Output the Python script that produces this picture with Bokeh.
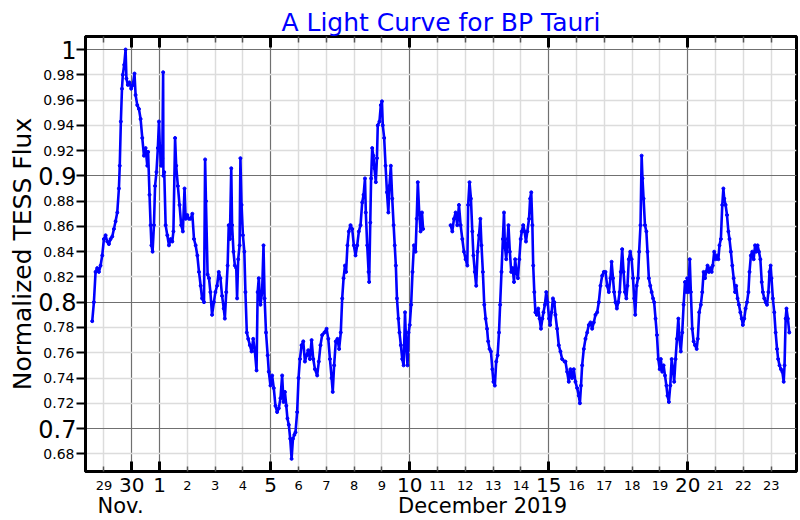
from bokeh.plotting import figure
from bokeh.models import Range1d, FixedTicker, LinearAxis, ColumnDataSource
from bokeh.embed import file_html
from bokeh.resources import INLINE

FONT = "DejaVu Sans"
BLUE = "#0000ff"

# Time in days since 2019-12-01 00:00 (TESS sector 19, two orbits)
orbit1_days = [-2.42, -2.36, -2.30, -2.24, -2.18, -2.12, -2.06, -2.00, -1.94, -1.88, -1.82, -1.76, -1.70,
               -1.64, -1.58, -1.52, -1.46, -1.43, -1.39, -1.35, -1.32, -1.27, -1.22, -1.19, -1.14, -1.08,
               -1.02, -0.96, -0.90, -0.86, -0.80, -0.74, -0.68, -0.62, -0.56, -0.50, -0.44, -0.41, -0.36,
               -0.32, -0.29, -0.25, -0.20, -0.16, -0.11, -0.06, -0.02, 0.01, 0.06, 0.10, 0.13, 0.14, 0.17,
               0.22, 0.28, 0.34, 0.40, 0.46, 0.50, 0.56, 0.60, 0.66, 0.72, 0.78, 0.84, 0.90, 0.94, 1.00,
               1.06, 1.12, 1.18, 1.24, 1.30, 1.36, 1.42, 1.48, 1.53, 1.60, 1.64, 1.67, 1.73, 1.78, 1.83,
               1.89, 1.955, 2.01, 2.07, 2.13, 2.19, 2.25, 2.31, 2.35, 2.40, 2.45, 2.49, 2.53, 2.58, 2.61,
               2.66, 2.71, 2.76, 2.79, 2.83, 2.88, 2.91, 2.95, 3.00, 3.05, 3.09, 3.14, 3.19, 3.25, 3.31,
               3.37, 3.43, 3.49, 3.53, 3.57, 3.63, 3.69, 3.74, 3.78, 3.83, 3.89, 3.93, 3.99, 4.05, 4.11,
               4.17, 4.23, 4.29, 4.35, 4.41, 4.46, 4.51, 4.56, 4.60, 4.65, 4.70, 4.75, 4.80, 4.85, 4.89,
               4.95, 5.00, 5.05, 5.11, 5.17, 5.23, 5.29, 5.35, 5.41, 5.47, 5.53, 5.59, 5.67, 5.73, 5.79,
               5.85, 5.93, 6.01, 6.07, 6.13, 6.19, 6.23, 6.28, 6.34, 6.40, 6.46, 6.52, 6.57, 6.62, 6.67,
               6.71, 6.76, 6.81, 6.87, 6.93, 6.99, 7.05, 7.11, 7.17, 7.23, 7.29, 7.34, 7.39, 7.42, 7.47,
               7.52, 7.54, 7.58, 7.61, 7.65, 7.69, 7.73, 7.78, 7.82, 7.85, 7.91, 7.96, 8.00, 8.03, 8.08,
               8.13, 8.18, 8.23, 8.27, 8.32, 8.37, 8.42, 8.46, 8.50, 8.54, 8.59, 8.63, 8.68, 8.73, 8.78,
               8.83, 8.87, 8.92, 8.96, 9.00, 9.05, 9.10, 9.15, 9.21, 9.25, 9.29, 9.34, 9.39, 9.44, 9.48]
orbit1_flux = [0.785, 0.800, 0.824, 0.827, 0.824, 0.829, 0.837, 0.850, 0.853, 0.848, 0.846, 0.850, 0.852,
               0.858, 0.864, 0.871, 0.890, 0.908, 0.943, 0.969, 0.980, 0.988, 1.000, 0.977, 0.972, 0.974,
               0.969, 0.972, 0.981, 0.964, 0.956, 0.953, 0.945, 0.930, 0.916, 0.922, 0.908, 0.919, 0.885,
               0.861, 0.845, 0.840, 0.861, 0.892, 0.903, 0.922, 0.943, 0.924, 0.908, 0.914, 0.982, 0.900, 0.903,
               0.861, 0.853, 0.845, 0.850, 0.848, 0.856, 0.930, 0.908, 0.892, 0.877, 0.861, 0.856, 0.890, 0.866, 0.869,
               0.866, 0.866, 0.870, 0.850, 0.845, 0.837, 0.824, 0.813, 0.803, 0.800, 0.913, 0.880, 0.822, 0.819, 0.808,
               0.790, 0.800, 0.808, 0.813, 0.824, 0.819, 0.805, 0.795, 0.787, 0.808, 0.829, 0.861, 0.850, 0.906, 0.861,
               0.840, 0.829, 0.827, 0.803, 0.834, 0.845, 0.914, 0.877, 0.853, 0.840, 0.808, 0.776, 0.771, 0.766, 0.761,
               0.771, 0.761, 0.746, 0.808, 0.819, 0.798, 0.808, 0.845, 0.803, 0.776, 0.758, 0.745, 0.734, 0.742, 0.732,
               0.718, 0.713, 0.716, 0.724, 0.742, 0.721, 0.729, 0.718, 0.708, 0.703, 0.692, 0.676, 0.692, 0.695, 0.697,
               0.713, 0.740, 0.755, 0.766, 0.769, 0.753, 0.758, 0.762, 0.755, 0.770, 0.755, 0.747, 0.742, 0.753, 0.766,
               0.774, 0.776, 0.779, 0.771, 0.755, 0.740, 0.729, 0.750, 0.769, 0.771, 0.763, 0.776, 0.803, 0.819, 0.829,
               0.824, 0.845, 0.856, 0.861, 0.858, 0.845, 0.837, 0.845, 0.856, 0.861, 0.879, 0.885, 0.898, 0.871, 0.845,
               0.824, 0.816, 0.863, 0.898, 0.922, 0.916, 0.906, 0.895, 0.914, 0.940, 0.943, 0.956, 0.959, 0.940, 0.930,
               0.908, 0.887, 0.871, 0.892, 0.908, 0.882, 0.861, 0.845, 0.829, 0.803, 0.787, 0.776, 0.766, 0.755, 0.750,
               0.792, 0.766, 0.750, 0.776, 0.782, 0.798, 0.824, 0.845, 0.840, 0.866, 0.895, 0.871, 0.856, 0.871, 0.858]

orbit2_days = [10.47, 10.53, 10.59, 10.65, 10.71, 10.77, 10.83, 10.89, 10.95, 11.01, 11.07, 11.10, 11.15,
               11.20, 11.25, 11.29, 11.34, 11.39, 11.44, 11.49, 11.54, 11.58, 11.63, 11.68, 11.73, 11.78,
               11.82, 11.87, 11.92, 11.97, 12.01, 12.06, 12.11, 12.16, 12.21, 12.25, 12.30, 12.35, 12.39,
               12.42, 12.47, 12.52, 12.55, 12.60, 12.65, 12.70, 12.75, 12.79, 12.84, 12.89, 12.94, 12.99,
               13.03, 13.08, 13.13, 13.18, 13.23, 13.29, 13.33, 13.37, 13.41, 13.44, 13.48, 13.52, 13.57,
               13.62, 13.67, 13.72, 13.77, 13.81, 13.86, 13.91, 13.96, 14.01, 14.05, 14.10, 14.15, 14.20,
               14.24, 14.30, 14.36, 14.42, 14.48, 14.57, 14.60, 14.66, 14.72, 14.78, 14.84, 14.90, 14.96,
               15.02, 15.08, 15.12, 15.16, 15.20, 15.26, 15.32, 15.38, 15.44, 15.50, 15.56, 15.62, 15.68,
               15.74, 15.80, 15.86, 15.92, 15.98, 16.04, 16.10, 16.16, 16.22, 16.26, 16.31, 16.35, 16.40,
               16.45, 16.50, 16.55, 16.59, 16.64, 16.69, 16.74, 16.79, 16.83, 16.88, 16.93, 16.98, 17.03,
               17.07, 17.11, 17.16, 17.21, 17.25, 17.30, 17.34, 17.37, 17.41, 17.46, 17.51, 17.55, 17.60,
               17.65, 17.70, 17.75, 17.79, 17.84, 17.89, 17.94, 17.99, 18.03, 18.08, 18.13, 18.18, 18.23,
               18.27, 18.32, 18.37, 18.42, 18.47, 18.51, 18.56, 18.61, 18.66, 18.70, 18.75, 18.80, 18.85,
               18.90, 18.95, 18.98, 19.02, 19.07, 19.11, 19.16, 19.21, 19.26, 19.32, 19.36, 19.41, 19.47,
               19.52, 19.57, 19.62, 19.66, 19.71, 19.76, 19.81, 19.86, 19.90, 19.95, 20.00, 20.05, 20.10,
               20.14, 20.19, 20.24, 20.28, 20.31, 20.36, 20.41, 20.46, 20.50, 20.55, 20.60, 20.65, 20.70,
               20.74, 20.79, 20.84, 20.89, 20.94, 20.98, 21.03, 21.08, 21.13, 21.18, 21.22, 21.27, 21.32,
               21.37, 21.42, 21.46, 21.51, 21.56, 21.61, 21.66, 21.70, 21.75, 21.80, 21.85, 21.90, 21.94,
               21.98, 22.01, 22.06, 22.11, 22.16, 22.21, 22.25, 22.30, 22.35, 22.40, 22.45, 22.48, 22.52,
               22.55, 22.60, 22.65]
orbit2_flux = [0.861, 0.856, 0.866, 0.871, 0.861, 0.877, 0.861, 0.850, 0.840, 0.834, 0.829, 0.877, 0.895,
               0.882, 0.856, 0.837, 0.824, 0.813, 0.840, 0.853, 0.866, 0.845, 0.824, 0.798, 0.787, 0.779,
               0.769, 0.763, 0.761, 0.747, 0.737, 0.734, 0.753, 0.758, 0.776, 0.798, 0.824, 0.850, 0.871,
               0.845, 0.834, 0.850, 0.861, 0.840, 0.824, 0.827, 0.816, 0.834, 0.824, 0.819, 0.834, 0.850,
               0.856, 0.861, 0.856, 0.848, 0.856, 0.866, 0.882, 0.887, 0.861, 0.829, 0.808, 0.792, 0.790,
               0.795, 0.787, 0.779, 0.787, 0.792, 0.798, 0.808, 0.800, 0.787, 0.782, 0.792, 0.803, 0.800,
               0.790, 0.779, 0.766, 0.761, 0.755, 0.753, 0.753, 0.745, 0.737, 0.747, 0.740, 0.747, 0.737,
               0.732, 0.726, 0.720, 0.734, 0.750, 0.763, 0.771, 0.776, 0.782, 0.784, 0.779, 0.784, 0.790,
               0.792, 0.800, 0.813, 0.821, 0.824, 0.824, 0.813, 0.808, 0.819, 0.832, 0.819, 0.808, 0.800,
               0.795, 0.800, 0.808, 0.824, 0.842, 0.824, 0.808, 0.803, 0.813, 0.834, 0.840, 0.834, 0.819,
               0.803, 0.790, 0.813, 0.819, 0.840, 0.861, 0.916, 0.898, 0.882, 0.861, 0.856, 0.840, 0.819,
               0.813, 0.808, 0.803, 0.800, 0.787, 0.774, 0.755, 0.747, 0.755, 0.745, 0.750, 0.742, 0.734,
               0.726, 0.721, 0.734, 0.755, 0.747, 0.737, 0.755, 0.771, 0.787, 0.771, 0.761, 0.776, 0.798,
               0.816, 0.808, 0.819, 0.808, 0.834, 0.808, 0.779, 0.769, 0.766, 0.763, 0.771, 0.792, 0.798,
               0.808, 0.824, 0.819, 0.824, 0.829, 0.824, 0.827, 0.824, 0.829, 0.840, 0.834, 0.837, 0.834,
               0.845, 0.850, 0.877, 0.890, 0.882, 0.877, 0.869, 0.856, 0.850, 0.840, 0.829, 0.819, 0.808,
               0.813, 0.803, 0.798, 0.792, 0.787, 0.782, 0.787, 0.795, 0.800, 0.808, 0.824, 0.837, 0.840,
               0.834, 0.845, 0.840, 0.845, 0.840, 0.834, 0.816, 0.808, 0.803, 0.800, 0.798, 0.808, 0.824,
               0.829, 0.819, 0.803, 0.792, 0.776, 0.763, 0.755, 0.750, 0.747, 0.745, 0.737, 0.750, 0.787,
               0.795, 0.787, 0.776]

# Tick positions (days since Dec 1) and their labels
major_day_ticks = [-1, 0, 4, 9, 14, 19]
major_day_labels = ["30", "1", "5", "10", "15", "20"]
minor_day_ticks = [-2, 1, 2, 3, 5, 6, 7, 8, 10, 11, 12, 13, 15, 16, 17, 18, 20, 21, 22]
minor_day_labels = ["29", "2", "3", "4", "6", "7", "8", "9", "11", "12", "13", "14",
                    "16", "17", "18", "19", "21", "22", "23"]
major_flux_ticks = [0.7, 0.8, 0.9, 1.0]
major_flux_labels = ["0.7", "0.8", "0.9", "1"]
minor_flux_ticks = [0.68, 0.72, 0.74, 0.76, 0.78, 0.82, 0.84, 0.86, 0.88, 0.92, 0.94, 0.96, 0.98]
minor_flux_labels = ["0.68", "0.72", "0.74", "0.76", "0.78", "0.82", "0.84", "0.86", "0.88",
                     "0.92", "0.94", "0.96", "0.98"]
month_labels = ["Nov.", "December 2019"]
month_label_days = [-1.40, 11.62]

X0, X1 = -2.662, 22.91
Y0, Y1 = 0.666, 1.0103

p = figure(width=800, height=520, x_range=Range1d(X0, X1), y_range=Range1d(Y0, Y1),
           output_backend="svg", toolbar_location=None,
           min_border_left=85, min_border_right=4, min_border_top=36, min_border_bottom=49)
p.background_fill_color = "white"
p.border_fill_color = "white"
p.outline_line_color = "black"
p.outline_line_width = 3

p.title.text = "A Light Curve for BP Tauri"
p.title.text_color = BLUE
p.title.text_font = FONT
p.title.text_font_size = "25px"
p.title.text_font_style = "normal"
p.title.align = "center"
p.title.standoff = 0

# Inner axes: small labels on "major" ticks, big-day / tenth positions as "minor" ticks
day_ticker = FixedTicker(ticks=minor_day_ticks, minor_ticks=major_day_ticks)
flux_ticker = FixedTicker(ticks=minor_flux_ticks, minor_ticks=major_flux_ticks)


def hide_lines(ax):
    ax.axis_line_color = None
    ax.major_tick_line_color = None
    ax.minor_tick_line_color = None


xa = p.xaxis[0]
xa.ticker = day_ticker
xa.major_label_overrides = {t: l for t, l in zip(minor_day_ticks, minor_day_labels)}
xa.major_label_text_font = FONT
xa.major_label_text_font_size = "13px"
xa.major_label_text_color = "black"
xa.major_label_standoff = 9
xa.axis_line_width = 3
xa.major_tick_in = 5
xa.major_tick_out = 0
xa.major_tick_line_width = 1.5
xa.major_tick_line_color = "#555555"
xa.minor_tick_in = 10
xa.minor_tick_out = 0
xa.minor_tick_line_width = 3
xa.minor_tick_line_color = "black"

xbig = LinearAxis(ticker=FixedTicker(ticks=major_day_ticks),
                  major_label_overrides={t: l for t, l in zip(major_day_ticks, major_day_labels)},
                  major_label_text_font=FONT, major_label_text_font_size="20px",
                  major_label_text_color="black", major_label_standoff=-21)
hide_lines(xbig)
p.add_layout(xbig, "below")

xmonth = LinearAxis(ticker=FixedTicker(ticks=month_label_days),
                    major_label_overrides={t: l for t, l in zip(month_label_days, month_labels)},
                    major_label_text_font=FONT, major_label_text_font_size="21px",
                    major_label_text_color="black", major_label_standoff=-7)
hide_lines(xmonth)
p.add_layout(xmonth, "below")

ya = p.yaxis[0]
ya.ticker = flux_ticker
ya.major_label_overrides = {t: l for t, l in zip(minor_flux_ticks, minor_flux_labels)}
ya.major_label_text_font = FONT
ya.major_label_text_font_size = "14px"
ya.major_label_text_color = "black"
ya.major_label_standoff = 2
ya.axis_line_width = 3
ya.major_tick_in = 0
ya.major_tick_out = 9
ya.major_tick_line_width = 2
ya.minor_tick_in = 0
ya.minor_tick_out = 9
ya.minor_tick_line_width = 2
ya.minor_tick_line_color = "black"

ybig = LinearAxis(ticker=FixedTicker(ticks=major_flux_ticks),
                  major_label_overrides={t: l for t, l in zip(major_flux_ticks, major_flux_labels)},
                  major_label_text_font=FONT, major_label_text_font_size="24px",
                  major_label_text_color="black", major_label_standoff=-42,
                  axis_label="Normalized TESS Flux", axis_label_text_font=FONT,
                  axis_label_text_font_size="25px", axis_label_text_font_style="normal",
                  axis_label_text_color="black", axis_label_standoff=-2)
hide_lines(ybig)
p.add_layout(ybig, "left")

top = LinearAxis(ticker=day_ticker, major_label_text_font_size="0px", major_label_standoff=0,
                 axis_line_width=3, major_tick_in=6, major_tick_out=0, major_tick_line_width=1.5,
                 major_tick_line_color="#555555", minor_tick_in=11, minor_tick_out=0,
                 minor_tick_line_width=3, minor_tick_line_color="black")
top.major_label_overrides = {t: "" for t in minor_day_ticks}
p.add_layout(top, "above")

for g in (p.xgrid[0], p.ygrid[0]):
    g.grid_line_color = "#dcdcdc"
    g.grid_line_width = 1.5
    g.minor_grid_line_color = "#707070"
    g.minor_grid_line_width = 1.2

for days, flux in ((orbit1_days, orbit1_flux), (orbit2_days, orbit2_flux)):
    src = ColumnDataSource(dict(t=days, f=flux))
    p.line("t", "f", source=src, line_color=BLUE, line_width=2.6)
    p.scatter("t", "f", source=src, size=3, color=BLUE)

open("out.html", "w").write(file_html(p, INLINE))
